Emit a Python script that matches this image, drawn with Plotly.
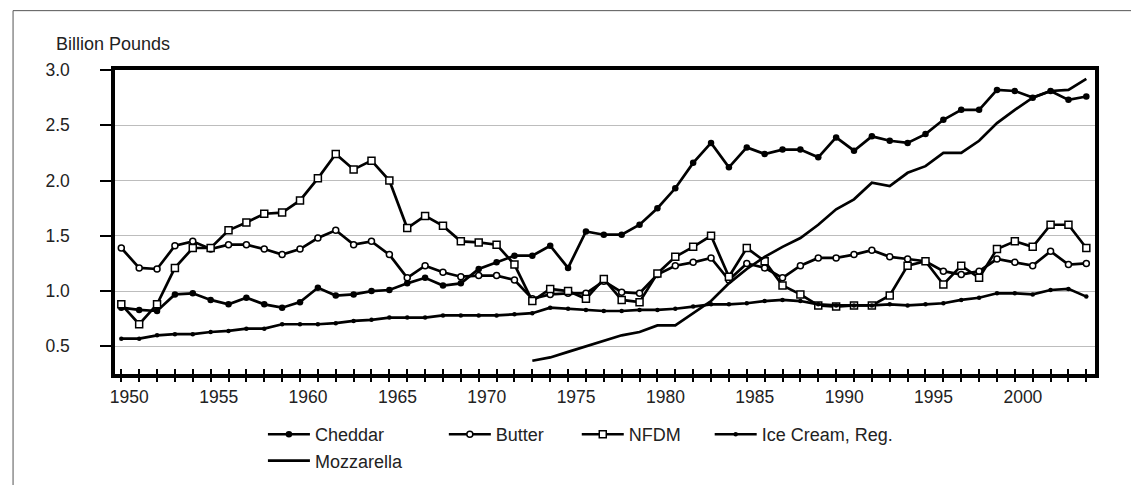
import plotly.graph_objects as go

years = list(range(1950, 2005))

cheddar = [0.85, 0.83, 0.82, 0.97, 0.98, 0.92, 0.88, 0.94, 0.88, 0.85,
           0.90, 1.03, 0.96, 0.97, 1.00, 1.01, 1.07, 1.12, 1.05, 1.07,
           1.20, 1.26, 1.32, 1.32, 1.41, 1.21, 1.54, 1.51, 1.51, 1.60,
           1.75, 1.93, 2.16, 2.34, 2.12, 2.30, 2.24, 2.28, 2.28, 2.21,
           2.39, 2.27, 2.40, 2.36, 2.34, 2.42, 2.55, 2.64, 2.64, 2.82,
           2.81, 2.75, 2.81, 2.73, 2.76]

butter = [1.39, 1.21, 1.20, 1.41, 1.45, 1.38, 1.42, 1.42, 1.38, 1.33,
          1.38, 1.48, 1.55, 1.42, 1.45, 1.33, 1.12, 1.23, 1.17, 1.13,
          1.14, 1.14, 1.10, 0.93, 0.97, 0.98, 0.98, 1.09, 0.99, 0.98,
          1.15, 1.23, 1.26, 1.30, 1.10, 1.25, 1.21, 1.12, 1.23, 1.30,
          1.30, 1.33, 1.37, 1.31, 1.29, 1.27, 1.18, 1.15, 1.18, 1.29,
          1.26, 1.23, 1.36, 1.24, 1.25]

nfdm = [0.88, 0.70, 0.88, 1.21, 1.39, 1.39, 1.55, 1.62, 1.70, 1.71,
        1.82, 2.02, 2.24, 2.10, 2.18, 2.00, 1.57, 1.68, 1.59, 1.45,
        1.44, 1.42, 1.24, 0.91, 1.02, 1.00, 0.93, 1.11, 0.92, 0.90,
        1.16, 1.31, 1.40, 1.50, 1.13, 1.39, 1.27, 1.05, 0.97, 0.87,
        0.86, 0.87, 0.87, 0.96, 1.23, 1.27, 1.06, 1.23, 1.12, 1.38,
        1.45, 1.40, 1.60, 1.60, 1.39]

ice_cream = [0.57, 0.57, 0.60, 0.61, 0.61, 0.63, 0.64, 0.66, 0.66, 0.70,
             0.70, 0.70, 0.71, 0.73, 0.74, 0.76, 0.76, 0.76, 0.78, 0.78,
             0.78, 0.78, 0.79, 0.80, 0.85, 0.84, 0.83, 0.82, 0.82, 0.83,
             0.83, 0.84, 0.86, 0.88, 0.88, 0.89, 0.91, 0.92, 0.91, 0.88,
             0.87, 0.87, 0.87, 0.88, 0.87, 0.88, 0.89, 0.92, 0.94, 0.98,
             0.98, 0.97, 1.01, 1.02, 0.95]

mozz_years = list(range(1973, 2005))
mozzarella = [0.37, 0.40, 0.45, 0.50, 0.55, 0.60, 0.63, 0.69, 0.69, 0.80,
              0.91, 1.07, 1.20, 1.31, 1.40, 1.48, 1.60, 1.74, 1.83, 1.98,
              1.95, 2.07, 2.13, 2.25, 2.25, 2.36, 2.52, 2.64, 2.75, 2.81,
              2.82, 2.92]

label_years = [1950, 1955, 1960, 1965, 1970, 1975, 1980, 1985, 1990, 1995, 2000]
y_ticks = [0.5, 1.0, 1.5, 2.0, 2.5, 3.0]

FONT = "Liberation Sans"
TXT = "#222222"
LW = 2.7

fig = go.Figure()
fig.add_trace(go.Scatter(x=years, y=cheddar, name="Cheddar", mode="lines+markers",
                         line=dict(color="black", width=LW),
                         marker=dict(symbol="circle", size=6.5, color="black"),
                         legend="legend"))
fig.add_trace(go.Scatter(x=years, y=butter, name="Butter", mode="lines+markers",
                         line=dict(color="black", width=LW),
                         marker=dict(symbol="circle", size=6, color="white",
                                     line=dict(color="black", width=1.5)),
                         legend="legend2"))
fig.add_trace(go.Scatter(x=years, y=nfdm, name="NFDM", mode="lines+markers",
                         line=dict(color="black", width=LW),
                         marker=dict(symbol="square", size=7, color="white",
                                     line=dict(color="black", width=1.5)),
                         legend="legend3"))
fig.add_trace(go.Scatter(x=years, y=ice_cream, name="Ice Cream, Reg.", mode="lines+markers",
                         line=dict(color="black", width=LW),
                         marker=dict(symbol="circle", size=4.5, color="black"),
                         legend="legend4"))
fig.add_trace(go.Scatter(x=mozz_years, y=mozzarella, name="Mozzarella", mode="lines",
                         line=dict(color="black", width=LW),
                         legend="legend"))
# carrier traces so that the overlay axes (tick marks / year labels) are drawn
fig.add_trace(go.Scatter(x=[None], y=[None], xaxis="x2", yaxis="y", showlegend=False,
                         hoverinfo="skip", mode="lines"))
fig.add_trace(go.Scatter(x=[None], y=[None], xaxis="x3", yaxis="y", showlegend=False,
                         hoverinfo="skip", mode="lines"))

W, H = 1139, 485
L, R, T, B = 107, 1087.5, 62.3, 366.0
pw, ph = R - L, B - T

def px(x):
    return (x - L) / pw

def py(y):
    return (B - y) / ph

xr = [1950 - (113.3 - L) / 17.88, 1950 + (R - 113.3) / 17.88]

leg_common = dict(orientation="v", xanchor="left", yanchor="top",
                  font=dict(family=FONT, size=18, color=TXT), bgcolor="rgba(0,0,0,0)",
                  tracegroupgap=0, itemwidth=42)
LEG_Y = py(408)

fig.update_layout(
    width=W, height=H,
    margin=dict(l=L, r=W - R, t=T, b=H - B, pad=0),
    paper_bgcolor="white", plot_bgcolor="white",
    font=dict(family=FONT, size=17, color=TXT),
    xaxis=dict(range=xr, tickmode="array", tickvals=years, ticktext=[""] * len(years),
               ticks="outside", ticklen=4, tickwidth=1.5, tickcolor="black",
               showline=True, linecolor="black", linewidth=3.5, mirror=True,
               showgrid=False, zeroline=False),
    xaxis2=dict(range=xr, overlaying="x", anchor="y", side="bottom",
                tickmode="array", tickvals=years, ticktext=[""] * len(years),
                ticks="inside", ticklen=5, tickwidth=1.5, tickcolor="black",
                showline=False, showgrid=False, zeroline=False),
    xaxis3=dict(range=xr, overlaying="x", anchor="y", side="bottom",
                tickmode="array", tickvals=[y + 0.45 for y in label_years],
                ticktext=[str(y) for y in label_years], ticks="", ticklabelstandoff=10,
                showline=False, showgrid=False, zeroline=False,
                tickfont=dict(family=FONT, size=17.5, color=TXT)),
    yaxis=dict(range=[0.25, 3.0], tickmode="array", tickvals=y_ticks,
               ticktext=[f"{v:.1f}" for v in y_ticks],
               ticks="outside", ticklen=11, tickwidth=1.5, tickcolor="black",
               showline=True, linecolor="black", linewidth=3.5, mirror=True,
               showgrid=True, gridcolor="#bdbdbd", gridwidth=1.2,
               zeroline=False, ticklabelstandoff=27,
               tickfont=dict(family=FONT, size=17.5, color=TXT)),
    legend=dict(x=px(255), y=LEG_Y, **leg_common),
    legend2=dict(x=px(436), y=LEG_Y, **leg_common),
    legend3=dict(x=px(569), y=LEG_Y, **leg_common),
    legend4=dict(x=px(702), y=LEG_Y, **leg_common),
    showlegend=True,
    annotations=[dict(text="Billion Pounds", xref="paper", yref="paper",
                      x=px(46), y=py(36), xanchor="left", yanchor="middle",
                      showarrow=False, font=dict(family=FONT, size=18, color=TXT))],
    shapes=[dict(type="rect", xref="paper", yref="paper",
                 x0=px(5), x1=px(1134), y0=py(481), y1=py(3),
                 line=dict(color="#555555", width=1), fillcolor="rgba(0,0,0,0)",
                 layer="below")],
)

fig.write_html("out.html")
